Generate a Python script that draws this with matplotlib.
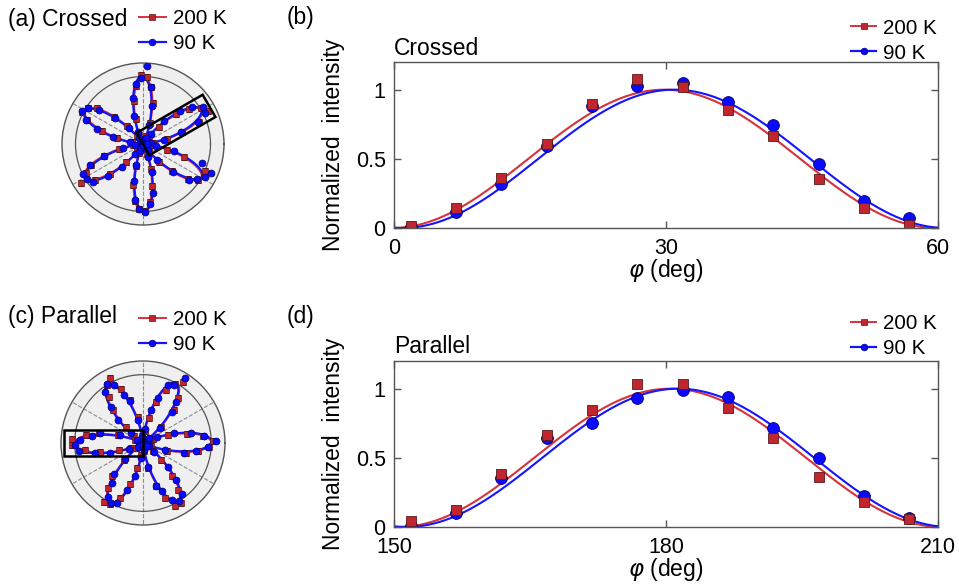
#Angle-resolved intensity, crossed and parallel, 200 K vs 90 K
import numpy as np
import matplotlib
matplotlib.use('Agg')
import matplotlib.pyplot as plt
from matplotlib.lines import Line2D
from matplotlib.patches import Rectangle
from matplotlib.transforms import Affine2D

plt.rcParams['font.family'] = ['Liberation Sans', 'DejaVu Sans']
plt.rcParams['mathtext.fontset'] = 'dejavusans'
LAB = 16.5   # labels and titles
TCK = 15.5   # tick labels
LEG = 14.8   # legends

# boxed petal (b) and (d)
phi_cr = [1.85, 6.85, 11.85, 16.85, 21.85, 26.85, 31.85, 36.85, 41.85, 46.85, 51.85, 56.85]
cr_200 = [0.017, 0.147, 0.36, 0.61, 0.894, 1.08, 1.017, 0.855, 0.663, 0.354, 0.147, 0.022]
cr_90 = [0.005, 0.113, 0.318, 0.595, 0.88, 1.024, 1.048, 0.908, 0.742, 0.463, 0.193, 0.072]

phi_pa = [151.85, 156.85, 161.85, 166.85, 171.85, 176.85, 181.85, 186.85, 191.85, 196.85, 201.85, 206.85]
pa_200 = [0.044, 0.126, 0.383, 0.666, 0.847, 1.034, 1.034, 0.857, 0.646, 0.363, 0.182, 0.06]
pa_90 = [0.01, 0.10, 0.356, 0.646, 0.755, 0.93, 0.993, 0.937, 0.714, 0.50, 0.223, 0.068]

# full polar scans, one row per petal (crossed petals at 30,90,...; parallel at 0,60,...)
cr_200_petals = [cr_200,
                 [0.02, 0.13, 0.33, 0.62, 0.85, 1.00, 1.03, 0.86, 0.65, 0.38, 0.15, 0.03],
                 [0.03, 0.14, 0.35, 0.58, 0.86, 0.98, 1.02, 0.90, 0.64, 0.40, 0.16, 0.02],
                 [0.02, 0.15, 0.37, 0.60, 0.83, 0.95, 1.09, 0.88, 0.66, 0.37, 0.14, 0.03],
                 [0.02, 0.14, 0.34, 0.62, 0.85, 0.97, 1.00, 0.87, 0.64, 0.39, 0.16, 0.02],
                 [0.03, 0.15, 0.36, 0.58, 0.85, 0.98, 1.02, 1.00, 0.64, 0.36, 0.15, 0.03]]
cr_90_petals = [cr_90,
                [0.01, 0.10, 0.30, 0.58, 0.86, 1.15, 0.98, 0.90, 0.70, 0.44, 0.19, 0.05],
                [0.01, 0.11, 0.31, 0.57, 0.82, 0.97, 1.03, 0.92, 0.72, 0.45, 0.20, 0.06],
                [0.01, 0.12, 0.30, 0.61, 0.85, 0.99, 0.97, 0.93, 0.70, 0.46, 0.18, 0.06],
                [0.00, 0.11, 0.32, 0.56, 0.84, 0.97, 1.01, 0.90, 0.74, 0.44, 0.21, 0.07],
                [0.01, 0.12, 0.31, 0.60, 0.86, 0.96, 1.04, 1.09, 0.92, 0.47, 0.20, 0.06]]
pa_200_petals = [[0.02, 0.12, 0.37, 0.64, 0.82, 0.97, 1.02, 0.88, 0.66, 0.38, 0.16, 0.04],
                 [0.03, 0.13, 0.36, 0.66, 0.84, 1.06, 0.98, 0.85, 0.63, 0.37, 0.18, 0.05],
                 [0.04, 0.11, 0.39, 0.65, 0.85, 1.07, 1.00, 0.84, 0.65, 0.35, 0.17, 0.05],
                 pa_200,
                 [0.03, 0.13, 0.38, 0.67, 0.83, 1.04, 1.02, 0.87, 0.63, 0.38, 0.18, 0.06],
                 [0.04, 0.12, 0.37, 0.66, 0.86, 1.03, 1.04, 0.86, 0.64, 0.36, 0.19, 0.05]]
pa_90_petals = [[0.01, 0.10, 0.34, 0.62, 0.78, 0.95, 1.07, 0.90, 0.72, 0.48, 0.22, 0.06],
                [0.01, 0.11, 0.33, 0.63, 0.77, 1.13, 0.97, 0.92, 0.70, 0.49, 0.21, 0.07],
                [0.01, 0.09, 0.35, 0.64, 0.76, 0.95, 1.01, 0.93, 0.71, 0.50, 0.23, 0.06],
                pa_90,
                [0.02, 0.10, 0.36, 0.63, 0.74, 0.94, 0.99, 0.95, 0.73, 0.49, 0.22, 0.07],
                [0.01, 0.11, 0.36, 0.65, 0.76, 0.93, 1.00, 0.94, 0.72, 0.51, 0.21, 0.07]]

# fitted phase shifts (deg)
cr_shift_200, cr_shift_90 = -0.2, 0.9
pa_shift_200, pa_shift_90 = 0.45, 1.35

red_line, red_fill, red_edge = '#d8323a', '#c0262d', '#5a1a1a'
blue_line, blue_fill, blue_edge = '#1414ff', '#0a0aff', '#00006e'


def crossed_fit(phi, s):
    return np.sin(np.radians(3 * (phi - s))) ** 2


def parallel_fit(phi, s):
    return np.cos(np.radians(3 * (phi - s))) ** 2


W, H = 959, 586
fig = plt.figure(figsize=(W / 100, H / 100), dpi=100)


def fy(y):
    return 1 - y / H


def polar_panel(rect, base_phi, p200, p90, fit, s200, s90, box_rot, box_len):
    ax = fig.add_axes(rect, projection='polar')
    ax.set_facecolor('#efefef')
    th = np.concatenate([np.array(base_phi) + 60 * j for j in range(6)])
    r200 = np.concatenate(p200)
    r90 = np.concatenate(p90)
    tf = np.linspace(0, 360, 721)
    ax.plot(np.radians(tf), fit(tf, s200), color=red_line, lw=1.5, zorder=3)
    ax.plot(np.radians(tf), fit(tf, s90), color=blue_line, lw=1.6, zorder=3)
    ax.plot(np.radians(th), r200, 's', ms=4.4, mfc=red_fill, mec=red_edge, mew=0.5, zorder=4)
    ax.plot(np.radians(th), r90, 'o', ms=5.0, mfc=blue_fill, mec=blue_edge, mew=0.5, zorder=4)
    ax.set_ylim(0, 1.2)
    ax.set_rticks([1])
    ax.set_yticklabels([])
    ax.set_xticks(np.radians([30, 90, 150, 210, 270, 330]))
    ax.set_xticklabels([])
    ax.xaxis.grid(True, ls='--', color='#8c8c8c', lw=0.8)
    ax.yaxis.grid(True, ls='-', color='#555555', lw=0.9)
    ax.spines['polar'].set_color('#555555')
    ax.spines['polar'].set_linewidth(1.0)
    tr = Affine2D().rotate_deg(box_rot).scale(1 / 2.4).translate(0.5, 0.5) + ax.transAxes
    ax.add_patch(Rectangle((0, -0.19), box_len, 0.38, transform=tr, fill=False,
                           ec='black', lw=1.8, clip_on=False, zorder=6))
    return ax


def line_panel(rect, x, y200, y90, fit, s200, s90, xlo):
    ax = fig.add_axes(rect)
    xf = np.linspace(xlo, xlo + 60, 400)
    ax.plot(xf, fit(xf, s200), color=red_line, lw=1.5)
    ax.plot(xf, fit(xf, s90), color=blue_line, lw=1.5)
    ax.plot(x, y90, 'o', ms=8.5, mfc=blue_fill, mec=blue_edge, mew=0.6)
    ax.plot(x, y200, 's', ms=7.3, mfc=red_fill, mec=red_edge, mew=0.6)
    ax.set_xlim(xlo, xlo + 60)
    ax.set_ylim(0, 1.2)
    ax.set_xticks([xlo, xlo + 30, xlo + 60])
    ax.set_yticks([0, 0.5, 1])
    ax.set_yticklabels(['0', '0.5', '1'])
    ax.tick_params(direction='in', top=True, right=True, length=5, width=1,
                   color='#555555', labelsize=TCK)
    ax.tick_params(axis='x', pad=7.5)
    ax.tick_params(axis='y', pad=6)
    for sp in ax.spines.values():
        sp.set_color('#555555')
        sp.set_linewidth(1.0)
    ax.set_ylabel('Normalized  intensity', fontsize=LAB, labelpad=8)
    ax.set_xlabel(r'$\varphi$ (deg)', fontsize=LAB, labelpad=-1.5)
    return ax


def legend_at(ax, x, y, loc, hl):
    hs = [Line2D([], [], color=red_line, lw=1.4, marker='s', ms=4.4, mfc=red_fill, mec=red_edge, mew=0.5),
          Line2D([], [], color=blue_line, lw=1.6, marker='o', ms=4.8, mfc=blue_fill, mec=blue_edge, mew=0.5)]
    ax.legend(hs, ['200 K', '90 K'], loc=loc, bbox_to_anchor=(x / W, fy(y)),
              bbox_transform=fig.transFigure, frameon=False, borderpad=0, borderaxespad=0,
              handlelength=hl, handletextpad=0.35, labelspacing=0.3, fontsize=LEG)


# (a) crossed polar
axa = polar_panel([62 / W, fy(225), 162 / W, 162 / H], phi_cr, cr_200_petals, cr_90_petals,
                  crossed_fit, cr_shift_200, cr_shift_90, 30, 1.13)
fig.text(8 / W, fy(26), '(a) Crossed', va='baseline', ha='left', fontsize=LAB)
legend_at(axa, 139, 9, 'upper left', 1.3)

# (c) parallel polar
axc = polar_panel([61 / W, fy(525), 164 / W, 164 / H], [p - 180 for p in phi_pa],
                  pa_200_petals, pa_90_petals, parallel_fit, pa_shift_200, pa_shift_90, 180, 1.16)
fig.text(8 / W, fy(323), '(c) Parallel', va='baseline', ha='left', fontsize=LAB)
legend_at(axc, 139, 310, 'upper left', 1.3)

# (b) crossed line cut
axb = line_panel([394 / W, fy(228), 544 / W, 166 / H], phi_cr, cr_200, cr_90,
                 crossed_fit, cr_shift_200, cr_shift_90, 0)
fig.text(287 / W, fy(24), '(b)', va='baseline', ha='left', fontsize=LAB)
fig.text(394 / W, fy(55), 'Crossed', va='baseline', ha='left', fontsize=LAB)
legend_at(axb, 937, 18.5, 'upper right', 1.2)

# (d) parallel line cut
axd = line_panel([394 / W, fy(527), 544 / W, 166 / H], phi_pa, pa_200, pa_90,
                 parallel_fit, pa_shift_200, pa_shift_90, 150)
fig.text(287 / W, fy(323), '(d)', va='baseline', ha='left', fontsize=LAB)
fig.text(394 / W, fy(353), 'Parallel', va='baseline', ha='left', fontsize=LAB)
legend_at(axd, 937, 314, 'upper right', 1.2)

fig.savefig('out.png', dpi=100)
